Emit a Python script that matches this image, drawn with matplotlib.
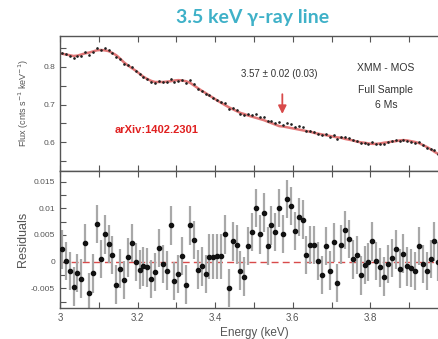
import matplotlib
matplotlib.use("Agg")
import matplotlib.pyplot as plt
import numpy as np
from matplotlib.ticker import MultipleLocator

# bin centres, 10 eV wide
energy = np.round(np.arange(3.005, 4.0, 0.01), 3)

# best-fit model flux per bin
model = [0.835, 0.833, 0.831, 0.829, 0.830, 0.833, 0.836, 0.838, 0.841, 0.844,
         0.845, 0.844, 0.842, 0.837, 0.831, 0.822, 0.812, 0.804, 0.797, 0.790,
         0.782, 0.774, 0.768, 0.763, 0.760, 0.760, 0.760, 0.761, 0.762, 0.764,
         0.765, 0.764, 0.762, 0.758, 0.751, 0.744, 0.737, 0.731, 0.724, 0.718,
         0.711, 0.705, 0.699, 0.693, 0.688, 0.683, 0.678, 0.675, 0.671, 0.668,
         0.665, 0.662, 0.659, 0.655, 0.651, 0.647, 0.643, 0.642, 0.640, 0.638,
         0.636, 0.634, 0.632, 0.630, 0.628, 0.625, 0.623, 0.621, 0.619, 0.617,
         0.615, 0.613, 0.612, 0.609, 0.607, 0.605, 0.602, 0.600, 0.599, 0.597,
         0.596, 0.596, 0.597, 0.599, 0.600, 0.602, 0.603, 0.605, 0.606, 0.605,
         0.603, 0.601, 0.598, 0.593, 0.588, 0.582, 0.575, 0.569, 0.562, 0.555]

# data - model
resid = [0.0023, 0.0001, -0.0018, -0.0047, -0.0021, -0.0032, 0.0035, -0.0058, -0.0022, 0.0071,
         0.0005, 0.0051, 0.0033, 0.0012, -0.0043, -0.0013, -0.0034, 0.0008, 0.0035, -0.0001,
         -0.0015, -0.0009, -0.0011, -0.0033, -0.0020, 0.0026, -0.0004, -0.0017, 0.0068, -0.0036,
         -0.0023, 0.0011, -0.0043, 0.0068, 0.0041, -0.0015, -0.0009, -0.0023, 0.0009, 0.0009,
         0.0010, 0.0010, 0.0051, -0.0049, 0.0038, 0.0032, -0.0017, -0.0028, 0.0029, 0.0055,
         0.0101, 0.0051, 0.0092, 0.0029, 0.0068, 0.0055, 0.0101, 0.0052, 0.0117, 0.0104,
         0.0057, 0.0084, 0.0079, 0.0012, 0.0031, 0.0031, 0.0001, -0.0025, 0.0029, -0.0017,
         0.0036, -0.0040, 0.0032, 0.0059, 0.0042, 0.0004, 0.0013, -0.0026, -0.0006, -0.0001,
         0.0038, 0.0001, -0.0011, -0.0028, -0.0004, 0.0007, 0.0023, -0.0013, 0.0015, -0.0009,
         -0.0012, -0.0018, 0.0029, -0.0004, -0.0018, 0.0005, 0.0038, 0.0000, -0.0010, 0.0010]

err = [0.0036] * 100
for k in (38, 39, 40, 41):
    err[k] = 0.0042

xticks = [3, 3.2, 3.4, 3.6, 3.8]
xticklabels = ["3", "3.2", "3.4", "3.6", "3.8"]
flux_ticks = [0.6, 0.7, 0.8]
res_ticks = [-0.005, 0, 0.005, 0.01, 0.015]
res_ticklabels = ["-0.005", "0", "0.005", "0.01", "0.015"]

GREY = "#555555"
RED = "#d84a4a"

plt.rcParams['font.family'] = ['Liberation Sans', 'DejaVu Sans']

fig = plt.figure(figsize=(4.38, 3.39), dpi=100)
W, H = 438, 339
ax1 = fig.add_axes([60 / W, 1 - 171 / H, 388 / W, 135 / H])
ax2 = fig.add_axes([60 / W, 1 - 308 / H, 388 / W, 137 / H])

data = np.array(model) + np.array(resid)
ax1.plot(energy, model, color=RED, lw=1.8, alpha=0.75, zorder=2)
ax1.errorbar(energy, data, yerr=0.0012, fmt='o', ms=0.9,
             color='#222222', ecolor='#555555', elinewidth=0.4, zorder=3)

ax2.axhline(0, color=RED, lw=1.0, ls=(0, (5, 3)), zorder=1)
ax2.errorbar(energy, resid, yerr=err, fmt='none', ecolor='#a8a8a8', elinewidth=1.6, zorder=2)
ax2.errorbar(energy, resid, xerr=0.004, fmt='o', ms=3, color='#111111',
             elinewidth=1.0, zorder=3)

for ax in (ax1, ax2):
    ax.set_xlim(3.0, 4.0)
    ax.set_xticks(xticks)
    ax.xaxis.set_minor_locator(MultipleLocator(0.1))
    ax.tick_params(which='both', direction='in', top=True, right=True,
                   colors=GREY, labelsize=6, length=4, width=0.8)
    for s in ax.spines.values():
        s.set_color(GREY)
        s.set_linewidth(1.0)

ax1.set_ylim(0.524, 0.882)
ax1.set_yticks(flux_ticks)
ax1.yaxis.set_minor_locator(MultipleLocator(0.05))
ax1.set_xticklabels([])
ax1.set_ylabel("Flux (cnts s$^{-1}$ keV$^{-1}$)", fontsize=6.5, color=GREY)
ax1.yaxis.set_label_coords(-0.075, 0.5)

ax2.set_ylim(-0.0087, 0.017)
ax2.set_yticks(res_ticks)
ax2.set_yticklabels(res_ticklabels)
ax2.yaxis.set_minor_locator(MultipleLocator(0.0025))
ax2.set_xticklabels(xticklabels)
ax2.tick_params(axis='x', labelsize=7)
ax2.set_ylabel("Residuals", fontsize=9, color=GREY)
ax2.yaxis.set_label_coords(-0.08, 0.5)
ax2.set_xlabel("Energy (keV)", fontsize=8.5, color=GREY, labelpad=3)

ax1.text(3.565, 0.780, "3.57 ± 0.02 (0.03)", fontsize=7, color='#333333',
         ha='center', va='center')
ax1.annotate("", xy=(3.573, 0.668), xytext=(3.573, 0.735),
             arrowprops=dict(arrowstyle='-|>', color=RED, lw=1.3, mutation_scale=12))
ax1.text(3.84, 0.796, "XMM - MOS", fontsize=7.5, color='#333333',
         ha='center', va='center')
ax1.text(3.84, 0.740, "Full Sample", fontsize=7.5, color='#333333',
         ha='center', va='center')
ax1.text(3.84, 0.698, "6 Ms", fontsize=7.5, color='#333333',
         ha='center', va='center')
ax1.text(3.248, 0.634, "arXiv:1402.2301", fontsize=8, color='#e02020',
         ha='center', va='center', fontweight='bold')

fig.text(253 / W, 1 - 18 / H, "3.5 keV γ-ray line", fontsize=14, color='#3fb1c8',
         ha='center', va='center', fontweight='bold', family=['Lato', 'DejaVu Sans'])

fig.savefig("out.png", dpi=100)
